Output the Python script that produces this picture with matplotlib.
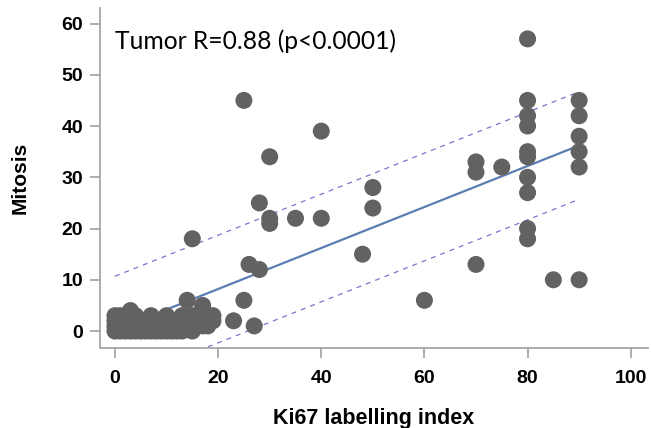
import numpy as np
import matplotlib
matplotlib.use('Agg')
import matplotlib.pyplot as plt

# Ki67 labelling index vs mitosis count
ki67 = [0, 0, 0, 0, 1, 1, 1, 1, 2, 2, 2, 3, 3, 3, 3, 4, 4, 4, 4,
        5, 5, 5, 6, 6, 6, 7, 7, 7, 7, 8, 8, 8, 9, 9, 9,
        10, 10, 10, 10, 11, 11, 12, 12, 12, 13, 13, 13, 13,
        14, 14, 14, 15, 15, 15, 15, 15, 16, 16, 16, 17, 17, 17,
        18, 18, 18, 19, 19,
        23, 25, 25, 26, 27, 28, 28, 30, 30, 30, 35, 40, 40,
        48, 50, 50, 60, 70, 70, 70, 75,
        80, 80, 80, 80, 80, 80, 80, 80, 80, 80,
        85, 90, 90, 90, 90, 90, 90]
mitosis = [0, 1, 2, 3, 0, 1, 2, 3, 0, 1, 2, 0, 1, 2, 4, 0, 1, 2, 3,
           0, 1, 2, 0, 1, 2, 0, 1, 2, 3, 0, 1, 2, 0, 1, 2,
           0, 1, 2, 3, 0, 1, 0, 1, 2, 0, 1, 2, 3,
           1, 2, 6, 0, 1, 2, 3, 18, 1, 2, 3, 1, 2, 5,
           1, 2, 3, 2, 3,
           2, 45, 6, 13, 1, 25, 12, 34, 22, 21, 22, 39, 22,
           15, 28, 24, 6, 33, 31, 13, 32,
           57, 45, 42, 40, 35, 34, 30, 27, 20, 18,
           10, 45, 42, 38, 35, 32, 10]

# linear fit and prediction band
fit_slope = 0.40
fit_intercept = 0.2
band_half = 10.5
fit_x = [0, 90]

fig = plt.figure(figsize=(6.51, 4.28), dpi=100)
ax = fig.add_axes([0.1536, 0.187, 0.8414, 0.794])

ax.scatter(ki67, mitosis, s=150, color='#626262', edgecolors='none', zorder=3)

fx = np.array(fit_x, dtype=float)
fy = fit_intercept + fit_slope * fx
ax.plot(fx, fy, color='#5a7db3', linewidth=1.6, zorder=2)
ax.plot(fx, fy + band_half, color='#7378d0', linewidth=0.9, linestyle=(0, (4, 4)), zorder=2)
ax.plot(fx, fy - band_half, color='#7378d0', linewidth=0.9, linestyle=(0, (4, 4)), zorder=2)

ax.set_xlim(-2.9, 103.3)
ax.set_ylim(-3.3, 63)
ax.set_xticks([0, 20, 40, 60, 80, 100])
ax.set_yticks([0, 10, 20, 30, 40, 50, 60])

for side in ['top', 'right']:
    ax.spines[side].set_visible(False)
for side in ['left', 'bottom']:
    ax.spines[side].set_color('#a6a6a6')
    ax.spines[side].set_linewidth(1.3)
ax.tick_params(axis='both', direction='out', length=7, width=1.3, color='#a6a6a6',
               labelsize=14)
ax.tick_params(axis='y', pad=5)
ax.tick_params(axis='x', pad=9)
for lab in ax.get_xticklabels() + ax.get_yticklabels():
    lab.set_fontweight('bold')
    lab.set_fontfamily('Liberation Sans')

ax.set_xlabel('Ki67 labelling index', fontsize=15.5, fontweight='bold',
              family='Liberation Sans', va='baseline')
ax.xaxis.set_label_coords(0.5, -0.2235)
ax.set_ylabel('Mitosis', fontsize=15, fontweight='bold',
              family='Liberation Sans', va='center')
ax.yaxis.set_label_coords(-0.146, 0.5)

ax.text(0.0, 55.0, 'Tumor R=0.88 (p<0.0001)', fontsize=17.7, family='Lato',
        va='baseline', ha='left')

plt.savefig('out.png', dpi=100)
